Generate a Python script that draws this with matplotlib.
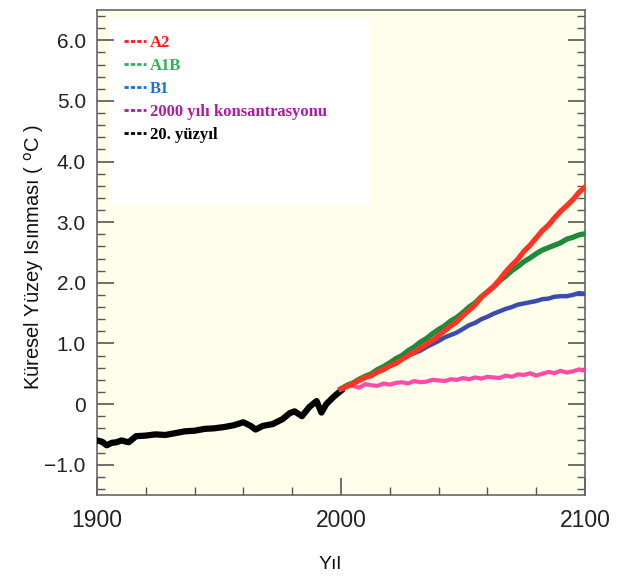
import matplotlib
matplotlib.use("Agg")
import matplotlib.pyplot as plt
from matplotlib.lines import Line2D
from matplotlib.patches import Rectangle
from matplotlib.ticker import FixedLocator, MultipleLocator

# 20th century observed warming
hist_years = [1900, 1902, 1904, 1906, 1908, 1910, 1913, 1916, 1920, 1924, 1928,
              1932, 1936, 1940, 1944, 1948, 1952, 1956, 1960, 1963, 1965, 1968,
              1972, 1976, 1979, 1981, 1984, 1987, 1990, 1992, 1994, 1997, 2000]
hist_vals = [-0.60, -0.62, -0.68, -0.64, -0.63, -0.60, -0.63, -0.53, -0.52, -0.50, -0.51,
             -0.48, -0.45, -0.44, -0.41, -0.40, -0.38, -0.35, -0.30, -0.36, -0.42, -0.36,
             -0.33, -0.25, -0.15, -0.12, -0.20, -0.05, 0.05, -0.14, 0.00, 0.12, 0.22]

# scenario projections, every 2.5 years from 2000 to 2100
proj_years = [2000 + 2.5 * i for i in range(41)]
a2_vals = [0.25, 0.29, 0.34, 0.39, 0.44, 0.47, 0.53, 0.57, 0.63, 0.67, 0.74,
           0.80, 0.86, 0.92, 0.99, 1.05, 1.13, 1.21, 1.29, 1.36, 1.46,
           1.55, 1.64, 1.76, 1.85, 1.94, 2.05, 2.18, 2.29, 2.39, 2.52,
           2.62, 2.74, 2.86, 2.95, 3.07, 3.18, 3.27, 3.37, 3.49, 3.58]
a1b_vals = [0.25, 0.31, 0.35, 0.41, 0.46, 0.50, 0.57, 0.62, 0.68, 0.75, 0.80,
            0.88, 0.94, 1.02, 1.08, 1.16, 1.23, 1.29, 1.37, 1.43, 1.51,
            1.60, 1.67, 1.77, 1.85, 1.93, 2.03, 2.11, 2.20, 2.27, 2.35,
            2.41, 2.48, 2.54, 2.58, 2.62, 2.66, 2.72, 2.75, 2.79, 2.81]
b1_vals = [0.25, 0.30, 0.34, 0.40, 0.44, 0.48, 0.54, 0.60, 0.64, 0.68, 0.74,
           0.80, 0.84, 0.88, 0.94, 0.99, 1.04, 1.10, 1.14, 1.18, 1.24,
           1.30, 1.34, 1.40, 1.44, 1.49, 1.53, 1.57, 1.60, 1.64, 1.66,
           1.68, 1.70, 1.73, 1.74, 1.77, 1.78, 1.78, 1.80, 1.83, 1.82]
const_vals = [0.25, 0.31, 0.30, 0.27, 0.33, 0.31, 0.30, 0.34, 0.32, 0.35, 0.36,
              0.34, 0.38, 0.36, 0.37, 0.40, 0.39, 0.38, 0.41, 0.40, 0.43,
              0.41, 0.44, 0.42, 0.45, 0.44, 0.43, 0.47, 0.45, 0.49, 0.48,
              0.51, 0.47, 0.50, 0.53, 0.51, 0.55, 0.52, 0.54, 0.57, 0.55]

legend_labels = ["A2", "A1B", "B1", "2000 yılı konsantrasyonu", "20. yüzyıl"]
legend_colors = ["#ff1a1a", "#1db954", "#1f6fd0", "#b01aa0", "#000000"]

y_ticks = [-1.0, 0, 1.0, 2.0, 3.0, 4.0, 5.0, 6.0]
y_tick_labels = ["\u22121.0", "0", "1.0", "2.0", "3.0", "4.0", "5.0", "6.0"]
x_ticks = [1900, 2000, 2100]

fig = plt.figure(figsize=(6.24, 5.78), dpi=100)
ax = fig.add_axes([0.1554, 0.1436, 0.782, 0.839])
ax.set_facecolor("#fffeea")

ax.plot(hist_years, hist_vals, color="black", lw=4.5, zorder=3, solid_joinstyle="round")
ax.plot(proj_years, const_vals, color="#ff4aa8", lw=3.0, zorder=4)
ax.plot(proj_years, b1_vals, color="#3a4cb0", lw=3.2, zorder=5)
ax.plot(proj_years, a1b_vals, color="#1e8a3c", lw=3.8, zorder=6)
ax.plot(proj_years, a2_vals, color="#ff3322", lw=3.8, zorder=7)

ax.set_xlim(1900, 2100)
ax.set_ylim(-1.5, 6.5)

# white legend panel
ax.add_patch(Rectangle((0.027, 0.598), 0.533, 0.385, transform=ax.transAxes,
                       facecolor="white", edgecolor="none", zorder=1))
handles = [Line2D([], [], color=c, lw=2, linestyle=(0, (1.5, 0.8))) for c in legend_colors]
leg = ax.legend(handles, legend_labels, loc="upper left", bbox_to_anchor=(0.025, 0.98),
                frameon=False, handlelength=1.3, handletextpad=0.25, labelspacing=0.42,
                prop={"family": "Liberation Serif", "weight": "bold", "size": 12})
for t, c in zip(leg.get_texts(), legend_colors):
    t.set_color(c)

ax.yaxis.set_major_locator(FixedLocator(y_ticks))
ax.set_yticklabels(y_tick_labels)
ax.yaxis.set_minor_locator(MultipleLocator(0.2))
ax.xaxis.set_major_locator(FixedLocator(x_ticks))
ax.xaxis.set_minor_locator(MultipleLocator(20))

ax.tick_params(which="both", direction="in", right=True, top=False, color="#555555")
ax.tick_params(which="major", length=12, width=1.2)
ax.tick_params(which="minor", length=6, width=1.0)
ax.tick_params(axis="y", which="major", labelsize=15, pad=8)
ax.tick_params(axis="x", which="major", labelsize=16.5, pad=10)
for lbl in ax.get_xticklabels() + ax.get_yticklabels():
    lbl.set_family("Liberation Sans")
    lbl.set_color("#222222")

for s in ax.spines.values():
    s.set_color("#666666")
    s.set_linewidth(1.2)

ax.set_ylabel("Küresel Yüzey Isınması ( $^{\\rm o}$C )", fontsize=14.5,
              family="Liberation Sans", color="#111111")
ax.yaxis.set_label_coords(-0.105, 0.49)
ax.set_xlabel("Yıl", fontsize=14, family="Liberation Sans", color="#111111")
ax.xaxis.set_label_coords(0.478, -0.125)

fig.savefig("out.png", dpi=100)
